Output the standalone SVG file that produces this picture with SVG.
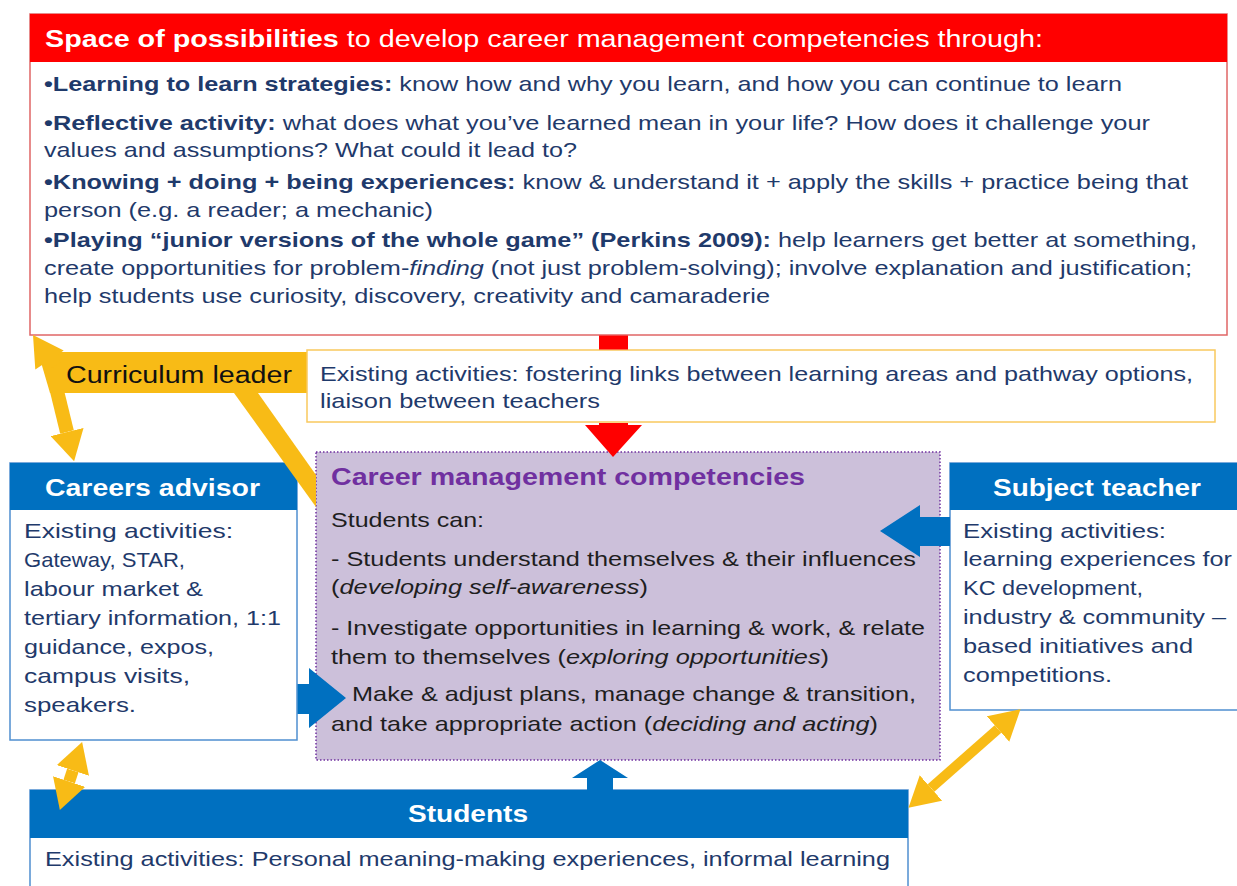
<svg xmlns="http://www.w3.org/2000/svg" width="1237" height="886" viewBox="0 0 1237 886">
<defs>
<style>
text{font-family:"Liberation Sans",Arial,Helvetica,sans-serif}
.nv{fill:#1f3a6b;font-size:21px}
.bk{fill:#1e1e1e;font-size:21px}
.b{font-weight:bold}
.i{font-style:italic}
.hd{fill:#ffffff;font-size:23px;font-weight:bold}
.blue{fill:#0070c0}
.bodybox{fill:#ffffff;stroke:#4f8fd0;stroke-width:1.5}
.yel{fill:#f8bb16}
.yline{stroke:#f8bb16;fill:none}
</style>
<marker id="yh" markerUnits="userSpaceOnUse" markerWidth="30" markerHeight="34" refX="0" refY="17" orient="auto-start-reverse">
<path d="M0,0 L30,17 L0,34 z" fill="#f8bb16"/>
</marker>
</defs>
<rect width="1237" height="886" fill="#ffffff"/>

<g id="top-box">
<rect x="30" y="14" width="1197" height="321" fill="#ffffff" stroke="#e06666" stroke-width="1.5"/>
<rect x="30" y="14" width="1197" height="48" fill="#ff0000"/>
<text x="45" y="47" fill="#ffffff" font-size="23" textLength="998" lengthAdjust="spacingAndGlyphs"><tspan font-weight="bold">Space of possibilities</tspan> to develop career management competencies through:</text>
<text class="nv" x="44" y="91" textLength="1078" lengthAdjust="spacingAndGlyphs"><tspan class="b">•Learning to learn strategies:</tspan> know how and why you learn, and how you can continue to learn</text>
<text class="nv" x="44" y="130" textLength="1106" lengthAdjust="spacingAndGlyphs"><tspan class="b">•Reflective activity:</tspan> what does what you’ve learned mean in your life? How does it challenge your</text>
<text class="nv" x="44" y="157" textLength="533" lengthAdjust="spacingAndGlyphs">values and assumptions? What could it lead to?</text>
<text class="nv" x="44" y="189" textLength="1144" lengthAdjust="spacingAndGlyphs"><tspan class="b">•Knowing + doing + being experiences:</tspan> know &amp; understand it + apply the skills + practice being that</text>
<text class="nv" x="44" y="217" textLength="389" lengthAdjust="spacingAndGlyphs">person (e.g. a reader; a mechanic)</text>
<text class="nv" x="44" y="247" textLength="1153" lengthAdjust="spacingAndGlyphs"><tspan class="b">•Playing “junior versions of the whole game” (Perkins 2009):</tspan> help learners get better at something,</text>
<text class="nv" x="44" y="275" textLength="1148" lengthAdjust="spacingAndGlyphs">create opportunities for problem-<tspan class="i">finding</tspan> (not just problem-solving); involve explanation and justification;</text>
<text class="nv" x="44" y="303" textLength="726" lengthAdjust="spacingAndGlyphs">help students use curiosity, discovery, creativity and camaraderie</text>
</g>

<g id="curriculum-leader">
<polygon points="38,352 308,352 308,393 50,393" class="yel"/>
<text x="66" y="383" fill="#111111" font-size="23" textLength="226" lengthAdjust="spacingAndGlyphs">Curriculum leader</text>
<rect x="307" y="350" width="908" height="72" fill="#ffffff" stroke="#f9c95e" stroke-width="1.5"/>
<text class="nv" x="320" y="381" textLength="873" lengthAdjust="spacingAndGlyphs">Existing activities: fostering links between learning areas and pathway options,</text>
<text class="nv" x="320" y="408" textLength="280" lengthAdjust="spacingAndGlyphs">liaison between teachers</text>
</g>

<g id="careers-advisor">
<rect x="10" y="463" width="287" height="277" class="bodybox"/>
<rect x="10" y="463" width="287" height="47" class="blue"/>
<text class="hd" x="45" y="496" textLength="215" lengthAdjust="spacingAndGlyphs">Careers advisor</text>
<text class="nv" x="24" y="538" textLength="209" lengthAdjust="spacingAndGlyphs">Existing activities:</text>
<text class="nv" x="24" y="567" textLength="161" lengthAdjust="spacingAndGlyphs">Gateway, STAR,</text>
<text class="nv" x="24" y="596" textLength="179" lengthAdjust="spacingAndGlyphs">labour market &amp;</text>
<text class="nv" x="24" y="625" textLength="257" lengthAdjust="spacingAndGlyphs">tertiary information, 1:1</text>
<text class="nv" x="24" y="654" textLength="190" lengthAdjust="spacingAndGlyphs">guidance, expos,</text>
<text class="nv" x="24" y="683" textLength="166" lengthAdjust="spacingAndGlyphs">campus visits,</text>
<text class="nv" x="24" y="712" textLength="112" lengthAdjust="spacingAndGlyphs">speakers.</text>
</g>

<g id="competencies">
<rect x="316" y="452" width="624" height="308" fill="#ccc0da" stroke="#7030a0" stroke-width="1.5" stroke-dasharray="1.5,2"/>
<text x="331" y="485" fill="#7030a0" font-size="23" font-weight="bold" textLength="474" lengthAdjust="spacingAndGlyphs">Career management competencies</text>
<text class="bk" x="331" y="527" textLength="153" lengthAdjust="spacingAndGlyphs">Students can:</text>
<text class="bk" x="331" y="566" textLength="585" lengthAdjust="spacingAndGlyphs">- Students understand themselves &amp; their influences</text>
<text class="bk" x="331" y="594" textLength="317" lengthAdjust="spacingAndGlyphs">(<tspan class="i">developing self-awareness</tspan>)</text>
<text class="bk" x="331" y="635" textLength="594" lengthAdjust="spacingAndGlyphs">- Investigate opportunities in learning &amp; work, &amp; relate</text>
<text class="bk" x="331" y="664" textLength="498" lengthAdjust="spacingAndGlyphs">them to themselves (<tspan class="i">exploring opportunities</tspan>)</text>
<text class="bk" x="352" y="701" textLength="564" lengthAdjust="spacingAndGlyphs">Make &amp; adjust plans, manage change &amp; transition,</text>
<text class="bk" x="331" y="731" textLength="547" lengthAdjust="spacingAndGlyphs">and take appropriate action (<tspan class="i">deciding and acting</tspan>)</text>
</g>

<g id="subject-teacher">
<rect x="950" y="463" width="290" height="247" class="bodybox"/>
<rect x="950" y="463" width="290" height="47" class="blue"/>
<text class="hd" x="993" y="496" textLength="208" lengthAdjust="spacingAndGlyphs">Subject teacher</text>
<text class="nv" x="963" y="538" textLength="203" lengthAdjust="spacingAndGlyphs">Existing activities:</text>
<text class="nv" x="963" y="566" textLength="269" lengthAdjust="spacingAndGlyphs">learning experiences for</text>
<text class="nv" x="963" y="595" textLength="180" lengthAdjust="spacingAndGlyphs">KC development,</text>
<text class="nv" x="963" y="624" textLength="263" lengthAdjust="spacingAndGlyphs">industry &amp; community –</text>
<text class="nv" x="963" y="653" textLength="230" lengthAdjust="spacingAndGlyphs">based initiatives and</text>
<text class="nv" x="963" y="682" textLength="149" lengthAdjust="spacingAndGlyphs">competitions.</text>
</g>

<g id="students">
<rect x="30" y="790" width="878" height="100" class="bodybox"/>
<rect x="30" y="790" width="878" height="48" class="blue"/>
<text class="hd" x="408" y="822" textLength="120" lengthAdjust="spacingAndGlyphs">Students</text>
<text class="nv" x="45" y="866" textLength="845" lengthAdjust="spacingAndGlyphs">Existing activities: Personal meaning-making experiences, informal learning</text>
</g>

<g id="connectors">
<!-- red arrow from top box to competencies (passes behind the yellow box) -->
<rect x="599" y="335.5" width="29" height="14" fill="#ff0000"/>
<polygon points="599,423 628,423 628,425 642,425 613,457 585,425 599,425" fill="#ff0000"/>
<!-- curriculum leader -> top box -->
<polygon points="33,335 63.7,350.6 56.2,355.6 60.6,362.3 47.2,371.1 42.8,364.4 35.3,369.4" class="yel"/>
<!-- curriculum leader -> careers advisor -->
<line x1="57" y1="391" x2="67" y2="432" class="yline" stroke-width="14" marker-end="url(#yh)"/>
<!-- curriculum leader -> competencies -->
<polygon points="234,393 258,393 316,475 316,507" class="yel"/>
<!-- careers advisor <-> students -->
<line x1="72.8" y1="770.5" x2="69.2" y2="781.5" class="yline" stroke-width="12" marker-start="url(#yh)" marker-end="url(#yh)"/>
<!-- subject teacher <-> students -->
<line x1="998" y1="729" x2="931" y2="788" class="yline" stroke-width="10" marker-start="url(#yh)" marker-end="url(#yh)"/>
<!-- careers advisor -> competencies -->
<polygon points="297.5,684 309,684 309,668 346,698 309,728 309,714 297.5,714" class="blue"/>
<!-- subject teacher -> competencies -->
<polygon points="950,517 920,517 920,505 880,531 920,557 920,546 950,546" class="blue"/>
<!-- students -> competencies -->
<polygon points="587,790 587,778 572,778 600,760 628,778 613,778 613,790" class="blue"/>
</g>
</svg>
